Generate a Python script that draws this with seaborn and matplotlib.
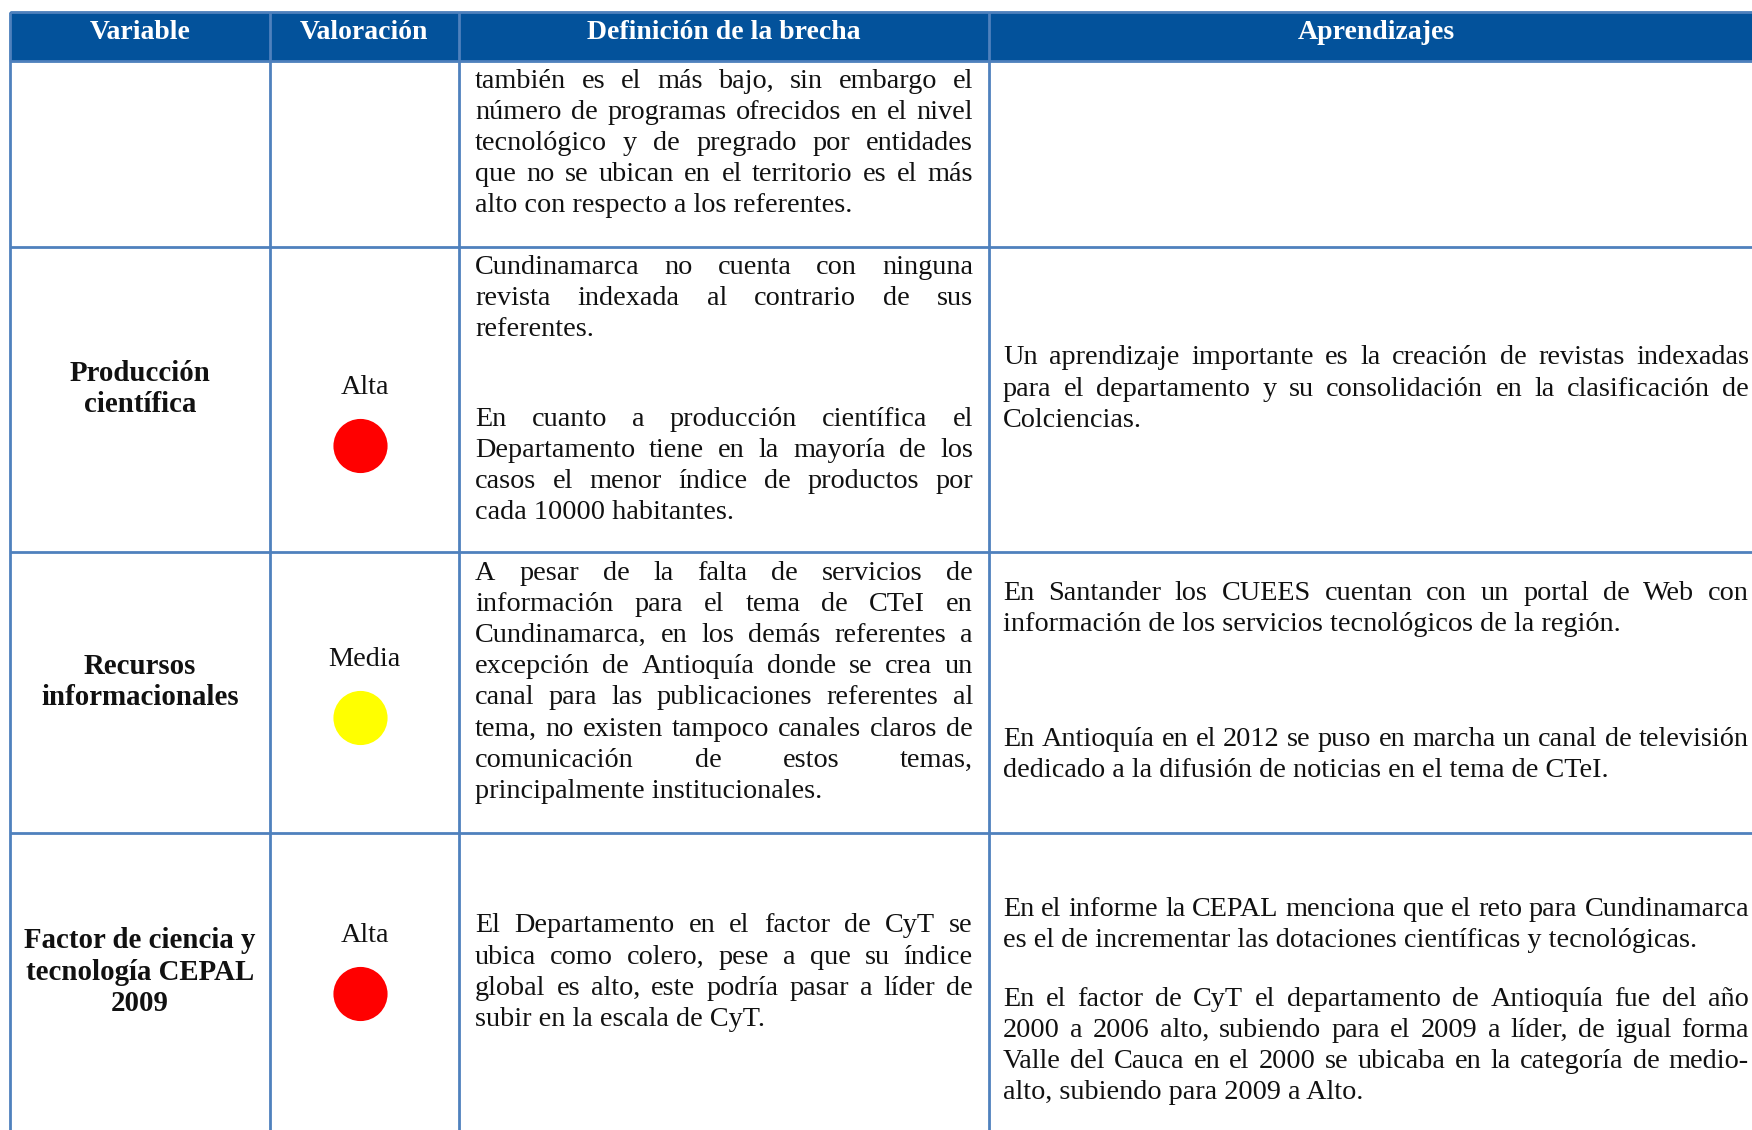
import matplotlib
matplotlib.use("Agg")
import matplotlib.pyplot as plt
import seaborn as sns
import pandas as pd
from matplotlib.patches import Rectangle

# Table content
headers = ["Variable", "Valoración", "Definición de la brecha", "Aprendizajes"]
variables = ["", "Producción\ncientífica", "Recursos\ninformacionales",
             "Factor de ciencia y\ntecnología CEPAL\n2009"]
ratings = ["", "Alta", "Media", "Alta"]
rating_colors = {"Alta": "#FF0000", "Media": "#FFFF00"}

# each cell = list of paragraphs, each paragraph = list of lines
# (all lines justified except the last one of a paragraph)
brecha = [
    [["también es el más bajo, sin embargo el",
      "número de programas ofrecidos en el nivel",
      "tecnológico y de pregrado por entidades",
      "que no se ubican en el territorio es el más",
      "alto con respecto a los referentes."]],
    [["Cundinamarca no cuenta con ninguna",
      "revista indexada al contrario de sus",
      "referentes."],
     ["En cuanto a producción científica el",
      "Departamento tiene en la mayoría de los",
      "casos el menor índice de productos por",
      "cada 10000 habitantes."]],
    [["A pesar de la falta de servicios de",
      "información para el tema de CTeI en",
      "Cundinamarca, en los demás referentes a",
      "excepción de Antioquía donde se crea un",
      "canal para las publicaciones referentes al",
      "tema, no existen tampoco canales claros de",
      "comunicación de estos temas,",
      "principalmente institucionales."]],
    [["El Departamento en el factor de CyT se",
      "ubica como colero, pese a que su índice",
      "global es alto, este podría pasar a líder de",
      "subir en la escala de CyT."]],
]
aprendizajes = [
    [],
    [["Un aprendizaje importante es la creación de revistas indexadas",
      "para el departamento y su consolidación en la clasificación de",
      "Colciencias."]],
    [["En Santander los CUEES cuentan con un portal de Web con",
      "información de los servicios tecnológicos de la región."],
     ["En Antioquía en el 2012 se puso en marcha un canal de televisión",
      "dedicado a la difusión de noticias en el tema de CTeI."]],
    [["En el informe la CEPAL menciona que el reto para Cundinamarca",
      "es el de incrementar las dotaciones científicas y tecnológicas."],
     ["En el factor de CyT el departamento de Antioquía fue del año",
      "2000 a 2006 alto, subiendo para el 2009 a líder, de igual forma",
      "Valle del Cauca en el 2000 se ubicaba en la categoría de medio-",
      "alto, subiendo para 2009 a Alto."]],
]

# Layout (pixels)
W, H = 1752, 1130
col_edges = [10, 270, 459, 989, W]
row_edges = [12, 61, 247, 552, 833, H]
header_x = [140, 364, 724, 1376]
line_h = 31.2
pad = 16
brecha_y = [[81], [267, 419], [573], [926]]
aprend_y = [[], [358], [593, 739], [909, 999]]
variable_y = [0, 389, 682, 972]
rating_y = [0, 388, 660, 936]
circle_gap = 58

header_blue = "#03529B"
grid_blue = "#4F81BD"
text_col = "#111111"

sns.set_style("white")
plt.rcParams["font.family"] = ["Liberation Serif", "DejaVu Serif"]

fig = plt.figure(figsize=(W / 100, H / 100), dpi=100)
ax = fig.add_axes([0, 0, 1, 1])

# valoración circles
mid2 = (col_edges[1] + col_edges[2]) / 2
df = pd.DataFrame({
    "x": [mid2 - 4 for r in ratings if r],
    "y": [y + circle_gap for y, r in zip(rating_y, ratings) if r],
    "valoracion": [r for r in ratings if r],
})
sns.scatterplot(data=df, x="x", y="y", hue="valoracion", palette=rating_colors,
                s=1520, linewidth=0, legend=False, ax=ax, zorder=3)

ax.set_xlim(0, W)
ax.set_ylim(H, 0)
ax.axis("off")

# header band and grid
ax.add_patch(Rectangle((col_edges[0], row_edges[0]), W - col_edges[0],
                       row_edges[1] - row_edges[0], color=header_blue, zorder=1))
ax.hlines(row_edges[:-1], col_edges[0], W, color=grid_blue, lw=2.0, zorder=2)
ax.vlines(col_edges[:-1], row_edges[0], H, color=grid_blue, lw=2.0, zorder=2)

fs = 20.3
renderer = fig.canvas.get_renderer()


def text_w(s, **kw):
    t = ax.text(0, 0, s, fontsize=fs, **kw)
    w = t.get_window_extent(renderer).width
    t.remove()
    return w


def draw_cell(paragraphs, ys, x0, x1):
    for para, y0 in zip(paragraphs, ys):
        for i, line in enumerate(para):
            y = y0 + i * line_h
            if i == len(para) - 1:
                ax.text(x0, y, line, fontsize=fs, color=text_col, ha="left", va="center")
                continue
            words = line.split()
            widths = [text_w(w) for w in words]
            gap = (x1 - x0 - sum(widths)) / (len(words) - 1)
            x = x0
            for w, ww in zip(words, widths):
                ax.text(x, y, w, fontsize=fs, color=text_col, ha="left", va="center")
                x += ww + gap


# header texts
for i, h in enumerate(headers):
    ax.text(header_x[i], (row_edges[0] + row_edges[1]) / 2 - 4, h, fontsize=20,
            fontweight="bold", color="white", ha="center", va="center")

mid1 = (col_edges[0] + col_edges[1]) / 2
for r in range(4):
    # variable label
    lines = variables[r].split("\n") if variables[r] else []
    for k, ln in enumerate(lines):
        y = variable_y[r] + (k - (len(lines) - 1) / 2) * line_h
        ax.text(mid1, y, ln, fontsize=20.8, fontweight="bold", color=text_col,
                ha="center", va="center")
    if ratings[r]:
        ax.text(mid2, rating_y[r], ratings[r], fontsize=fs, color=text_col,
                ha="center", va="center")
    draw_cell(brecha[r], brecha_y[r], col_edges[2] + pad, col_edges[3] - pad)
    draw_cell(aprendizajes[r], aprend_y[r], col_edges[3] + 14, 1749)

plt.savefig("out.png", dpi=100)
